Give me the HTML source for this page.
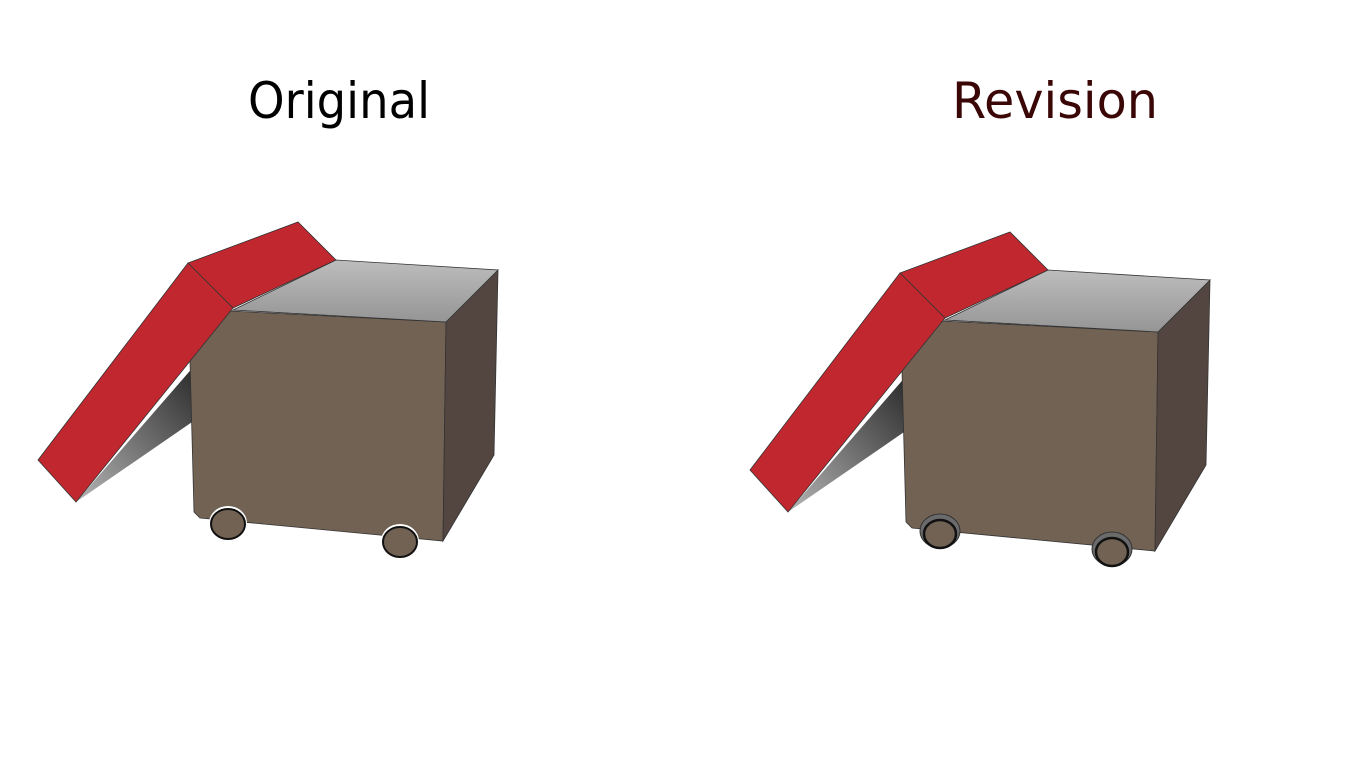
<!DOCTYPE html>
<html><head><meta charset="utf-8"><style>html,body{margin:0;padding:0;background:#fff;width:1366px;height:768px;overflow:hidden}</style></head>
<body>
<svg width="1366" height="768" viewBox="0 0 1366 768" xmlns="http://www.w3.org/2000/svg">
<defs>
<linearGradient id="top" x1="0" y1="0" x2="0" y2="1"><stop offset="0" stop-color="#bdbdbd"/><stop offset="1" stop-color="#959595"/></linearGradient>
<linearGradient id="sh" x1="1" y1="0" x2="0" y2="1"><stop offset="0" stop-color="#2a2a2a"/><stop offset="1" stop-color="#b5b5b5"/></linearGradient>
<g id="box">
  <polygon points="76,502 195,365 195,420" fill="url(#sh)"/>
  <polygon points="230,311 446,322 443,541 200,518 194,512 190,360" fill="#726254" stroke="#333" stroke-width="0.8"/>
  <polygon points="446,322 498,270 494,455 443,541" fill="#534641" stroke="#333" stroke-width="0.8"/>
  <polygon points="233,310 336,260 498,270 446,322" fill="url(#top)" stroke="#333" stroke-width="0.8"/>
  <polygon points="188,263 298,222 336,260 233,308" fill="#c1272f" stroke="#333" stroke-width="0.8"/>
  <polygon points="188,263 233,308 76,502 38,460" fill="#c1272f" stroke="#333" stroke-width="0.8"/>
</g>
</defs>
<text x="339" y="118" font-family="DejaVu Sans, sans-serif" font-size="50" text-anchor="middle" fill="#000" textLength="182" lengthAdjust="spacingAndGlyphs">Original</text>
<text x="1055" y="118" font-family="DejaVu Sans, sans-serif" font-size="50" text-anchor="middle" fill="#3a0606" textLength="206" lengthAdjust="spacingAndGlyphs">Revision</text>
<use href="#box"/>
<ellipse cx="228" cy="523" rx="19" ry="17" fill="#fff"/>
<ellipse cx="228" cy="524" rx="17" ry="15" fill="#726254" stroke="#111" stroke-width="2"/>
<ellipse cx="400" cy="541" rx="19" ry="17" fill="#fff"/>
<ellipse cx="400" cy="542" rx="17" ry="15" fill="#726254" stroke="#111" stroke-width="2"/>
<g transform="translate(712,10)">
<use href="#box"/>
<ellipse cx="228" cy="521" rx="20" ry="17" fill="#6b6b6b" stroke="#333" stroke-width="1"/>
<ellipse cx="228" cy="524" rx="16" ry="14" fill="#726254" stroke="#111" stroke-width="2.5"/>
<ellipse cx="400" cy="539" rx="20" ry="17" fill="#6b6b6b" stroke="#333" stroke-width="1"/>
<ellipse cx="400" cy="542" rx="16" ry="14" fill="#726254" stroke="#111" stroke-width="2.5"/>
</g>
</svg>
</body></html>
